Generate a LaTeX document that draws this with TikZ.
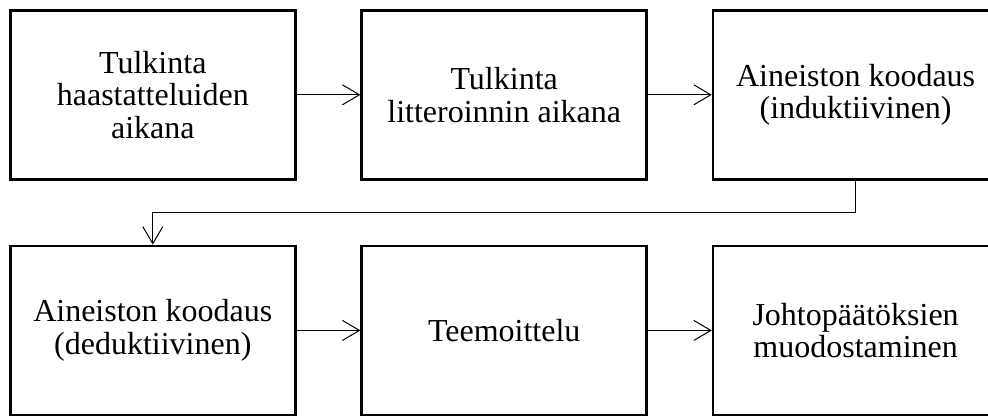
\documentclass[tikz,border=0pt]{standalone}
\usepackage{fontspec}
\setmainfont{Liberation Serif}
\usetikzlibrary{positioning, arrows.meta}
\tikzset{
  pv/vaihe/.style={rectangle, draw=black, fill=white,
    minimum width=142.5pt, minimum height=84.5pt,
    font=\fontsize{16}{16.3}\selectfont, align=center, line width=1.3pt,
    inner sep=2pt},
  pv/nuoli/.style={-{Straight Barb[length=8.5pt,width=10pt]}, line width=0.5pt,
    draw=black}
}

\begin{document}
\begin{tikzpicture}[node distance=32pt and 31.9pt]
  \clip (0,0) rectangle (494pt,-209.5pt);
  \node[pv/vaihe, anchor=north west] (h1) at (4.5pt,-4.5pt) {Tulkinta\\haastatteluiden\\aikana};
  \node[pv/vaihe, right=of h1] (h2) {Tulkinta\\litteroinnin aikana};
  \node[pv/vaihe, right=of h2] (h3) {Aineiston koodaus\\(induktiivinen)};
  \node[pv/vaihe, below=of h1] (h4) {Aineiston koodaus\\(deduktiivinen)};
  \node[pv/vaihe, right=of h4] (h5) {Teemoittelu};
  \node[pv/vaihe, right=of h5] (h6) {Johtopäätöksien\\muodostaminen};

  \draw[pv/nuoli] (h1) -- (h2);
  \draw[pv/nuoli] (h2) -- (h3);
  \draw[pv/nuoli] (h3.south) -- ++(0,-16pt) -| (h4.north);
  \draw[pv/nuoli] (h4) -- (h5);
  \draw[pv/nuoli] (h5) -- (h6);
\end{tikzpicture}
\end{document}
